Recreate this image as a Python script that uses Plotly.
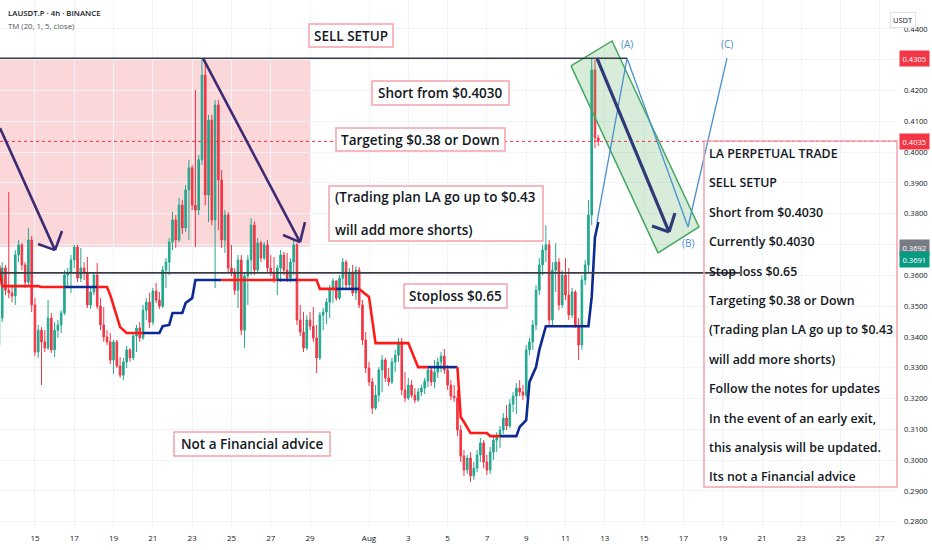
import pandas as pd
import plotly.graph_objects as go

# ---------------- data (LAUSDT.P, 4h candles) ----------------
start_time = "2025-07-13 04:00"
first_open = 0.3374
close = [
0.3461,0.3624,0.3552,0.3543,0.3533,0.3666,0.3699,0.3634,0.3578,0.3715,
0.3504,0.3351,0.3422,0.3384,0.3364,0.3461,0.3358,0.3422,0.3439,0.3478,
0.3601,0.3611,0.3650,0.3692,0.3591,0.3624,0.3608,0.3504,0.3546,0.3601,
0.3500,0.3439,0.3400,0.3384,0.3325,0.3384,0.3306,0.3276,0.3319,0.3358,
0.3332,0.3403,0.3429,0.3397,0.3487,0.3513,0.3448,0.3549,0.3520,0.3500,
0.3617,0.3643,0.3708,0.3780,0.3715,0.3828,0.3754,0.3877,0.3949,0.3828,
0.3812,0.3975,0.4250,0.3861,0.4104,0.3780,0.4153,0.3910,0.3715,0.3796,
0.3624,0.3611,0.3552,0.3650,0.3422,0.3598,0.3650,0.3763,0.3617,0.3705,
0.3656,0.3699,0.3624,0.3611,0.3585,0.3624,0.3666,0.3617,0.3591,0.3643,
0.3699,0.3455,0.3416,0.3364,0.3455,0.3435,0.3397,0.3332,0.3471,0.3481,
0.3513,0.3559,0.3582,0.3526,0.3591,0.3643,0.3569,0.3611,0.3543,0.3617,
0.3504,0.3390,0.3299,0.3254,0.3169,0.3211,0.3293,0.3325,0.3267,0.3254,
0.3319,0.3341,0.3384,0.3228,0.3202,0.3244,0.3211,0.3195,0.3221,0.3234,
0.3257,0.3293,0.3254,0.3286,0.3319,0.3338,0.3293,0.3244,0.3208,0.3202,
0.3098,0.3013,0.2968,0.3007,0.2949,0.2974,0.3017,0.3056,0.2994,0.2968,
0.3026,0.3065,0.3078,0.3098,0.3137,0.3111,0.3182,0.3208,0.3234,0.3221,
0.3211,0.3358,0.3384,0.3439,0.3552,0.3634,0.3682,0.3699,0.3455,0.3617,
0.3643,0.3504,0.3601,0.3536,0.3471,0.3546,0.3439,0.3374,0.3585,0.3634,
0.3796,0.4267,0.4046,0.4035]
high = [
0.3481,0.3643,0.3634,0.3871,0.3569,0.3682,0.3715,0.3705,0.3643,0.3754,
0.3728,0.3526,0.3439,0.3432,0.3422,0.3520,0.3478,0.3448,0.3455,0.3487,
0.3617,0.3624,0.3666,0.3699,0.3699,0.3689,0.3643,0.3660,0.3559,0.3611,
0.3640,0.3526,0.3497,0.3422,0.3413,0.3390,0.3390,0.3335,0.3332,0.3371,
0.3364,0.3416,0.3439,0.3448,0.3504,0.3526,0.3543,0.3559,0.3575,0.3546,
0.3630,0.3656,0.3721,0.3806,0.3796,0.3851,0.3845,0.3893,0.3975,0.3958,
0.4202,0.3991,0.4305,0.4299,0.4121,0.4121,0.4169,0.4169,0.3942,0.3812,
0.3805,0.3699,0.3624,0.3666,0.3666,0.3611,0.3666,0.3786,0.3775,0.3721,
0.3712,0.3708,0.3715,0.3666,0.3660,0.3634,0.3682,0.3676,0.3673,0.3656,
0.3715,0.3705,0.3504,0.3481,0.3471,0.3481,0.3497,0.3439,0.3481,0.3494,
0.3526,0.3569,0.3591,0.3585,0.3601,0.3656,0.3650,0.3624,0.3634,0.3630,
0.3627,0.3520,0.3416,0.3319,0.3267,0.3244,0.3302,0.3341,0.3332,0.3299,
0.3332,0.3358,0.3397,0.3397,0.3286,0.3267,0.3260,0.3234,0.3234,0.3244,
0.3267,0.3306,0.3306,0.3325,0.3332,0.3351,0.3361,0.3309,0.3260,0.3244,
0.3228,0.3114,0.3033,0.3017,0.3026,0.2994,0.3033,0.3072,0.3065,0.3017,
0.3043,0.3078,0.3091,0.3111,0.3153,0.3179,0.3198,0.3221,0.3250,0.3260,
0.3244,0.3374,0.3397,0.3455,0.3569,0.3656,0.3699,0.3763,0.3715,0.3643,
0.3705,0.3656,0.3617,0.3656,0.3624,0.3559,0.3552,0.3461,0.3601,0.3650,
0.3845,0.4305,0.4299,0.4056]
low = [
0.3358,0.3448,0.3536,0.3526,0.3513,0.3504,0.3643,0.3617,0.3559,0.3569,
0.3481,0.3338,0.3332,0.3244,0.3351,0.3358,0.3348,0.3335,0.3397,0.3413,
0.3471,0.3562,0.3543,0.3624,0.3578,0.3578,0.3585,0.3494,0.3491,0.3536,
0.3491,0.3422,0.3384,0.3374,0.3312,0.3280,0.3299,0.3267,0.3260,0.3299,
0.3319,0.3325,0.3351,0.3384,0.3390,0.3455,0.3429,0.3439,0.3510,0.3491,
0.3494,0.3559,0.3601,0.3682,0.3689,0.3708,0.3734,0.3741,0.3715,0.3812,
0.3692,0.3796,0.3958,0.3828,0.3773,0.3763,0.3559,0.3747,0.3689,0.3673,
0.3611,0.3598,0.3536,0.3494,0.3406,0.3364,0.3504,0.3601,0.3601,0.3611,
0.3643,0.3650,0.3611,0.3598,0.3575,0.3536,0.3578,0.3601,0.3578,0.3578,
0.3601,0.3439,0.3403,0.3351,0.3358,0.3422,0.3384,0.3283,0.3325,0.3422,
0.3442,0.3461,0.3510,0.3517,0.3520,0.3559,0.3559,0.3559,0.3533,0.3520,
0.3494,0.3374,0.3283,0.3241,0.3150,0.3163,0.3189,0.3221,0.3254,0.3241,
0.3247,0.3286,0.3319,0.3211,0.3189,0.3195,0.3202,0.3185,0.3189,0.3208,
0.3215,0.3237,0.3241,0.3234,0.3267,0.3286,0.3280,0.3228,0.3195,0.3189,
0.3078,0.2994,0.2949,0.2955,0.2929,0.2936,0.2961,0.2994,0.2974,0.2952,
0.2955,0.3000,0.3026,0.3039,0.3085,0.3098,0.3104,0.3156,0.3150,0.3208,
0.3195,0.3202,0.3341,0.3358,0.3422,0.3536,0.3601,0.3643,0.3439,0.3439,
0.3546,0.3487,0.3494,0.3520,0.3455,0.3461,0.3429,0.3325,0.3358,0.3569,
0.3611,0.3763,0.4013,0.4020]

# TM indicator (trend line): vertex candle index, value, colour of following segment
tm_k = [0,1,12,13,20,30,33,34,36,37,39,44,49,50,52,53,56,57,59,60,68,85,91,97,98,
        103,110,113,115,125,128,131,140,141,142,144,149,150,153,158,159,161,162,164,165,
        166,167,180,181,182,183]
tm_v = [0.3634,0.3565,0.3565,0.3562,0.3562,0.3562,0.3562,0.3536,0.3461,0.3432,
        0.3413,0.3413,0.3413,0.3435,0.3439,0.3478,0.3478,0.3510,0.3526,0.3585,
        0.3585,0.3585,0.3585,0.3585,0.3556,0.3556,0.3556,0.3530,0.3380,0.3380,
        0.3302,0.3302,0.3302,0.3140,0.3124,0.3088,0.3088,0.3078,0.3078,0.3078,
        0.3108,0.3130,0.3254,0.3302,0.3358,0.3397,0.3435,0.3435,0.3530,0.3724,0.3773]
tm_dir = "RRRRB" "RRRRR" "RBBBB" "BBBBB" "RBRRR" "BRRRR" "RBRRR" "RRRBB" "BBBBB" "BBBBB" "B"

# levels / drawings (time, price)
top_level = 0.4305
stop_level = 0.3608
last_price = 0.4035
zone_low, zone_high = 0.3692, 0.4305
zone_end = "2025-07-29 01:10"
arrow1 = [("2025-07-13 05:18", 0.4078), ("2025-07-16 00:30", 0.3682)]
arrow1_wings = [("2025-07-15 03:50", 0.3702), ("2025-07-16 09:00", 0.3744)]
arrow2 = [("2025-07-23 13:10", 0.4305), ("2025-07-28 11:45", 0.3708)]
arrow2_wings = [("2025-07-27 15:00", 0.3731), ("2025-07-28 17:50", 0.3773)]
arrow3 = [("2025-08-12 14:25", 0.4305), ("2025-08-16 06:25", 0.3741)]
arrow3_wings = [("2025-08-15 09:40", 0.3760), ("2025-08-16 13:40", 0.3802)]
channel_t = ["2025-08-11 06:45", "2025-08-13 08:50", "2025-08-17 19:00", "2025-08-15 17:00", "2025-08-11 06:45"]
channel_p = [0.4280, 0.4361, 0.3757, 0.3673, 0.4280]
abc_t = ["2025-08-12 14:25", "2025-08-14 03:10", "2025-08-17 05:35", "2025-08-19 05:15"]
abc_p = [0.3773, 0.4305, 0.3757, 0.4305]
top_level_end = "2025-08-14 03:10"
stop_level_end = "2025-08-19 21:00"

x_ticks = ["2025-07-15", "2025-07-17", "2025-07-19", "2025-07-21", "2025-07-23", "2025-07-25",
           "2025-07-27", "2025-07-29", "2025-08-01", "2025-08-03", "2025-08-05", "2025-08-07",
           "2025-08-09", "2025-08-11", "2025-08-13", "2025-08-15", "2025-08-17", "2025-08-19",
           "2025-08-21", "2025-08-23", "2025-08-25", "2025-08-27"]
x_tick_text = ["15", "17", "19", "21", "23", "25", "27", "29", "Aug", "3", "5", "7", "9", "11",
               "13", "15", "17", "19", "21", "23", "25", "27"]
y_ticks = [0.28, 0.29, 0.30, 0.31, 0.32, 0.33, 0.34, 0.35, 0.36, 0.37, 0.38, 0.39, 0.40,
           0.41, 0.42, 0.43, 0.44]
badges = [(0.4305, "#f23645"), (0.4035, "#f23645"), (0.3692, "#787b86"), (0.3691, "#089981")]

# ---------------- build ----------------
times = pd.date_range(start_time, periods=len(close), freq="4h")
opens = [first_open] + close[:-1]
hi = [max(h, o, c) for h, o, c in zip(high, opens, close)]
lo = [min(l, o, c) for l, o, c in zip(low, opens, close)]

W, H = 932, 550
ML, MR, MT, MB = 0, 34, 0, 23
PW, PH = W - ML - MR, H - MT - MB

def px(x):
    return (x - ML) / PW

def py(y):
    return 1 - (y - MT) / PH

FONT = "Open Sans"
TXT = "#131722"
PINK = "#f5a3aa"

fig = go.Figure()

# pink zone
fig.add_shape(type="rect", xref="x", yref="y", x0="2025-07-12", x1=zone_end,
              y0=zone_low, y1=zone_high, fillcolor="rgba(242,54,69,0.20)",
              line=dict(width=0), layer="below")

# candles
fig.add_trace(go.Candlestick(
    x=times, open=opens, high=hi, low=lo, close=close,
    increasing=dict(line=dict(color="#22a88f", width=1), fillcolor="#22a88f"),
    decreasing=dict(line=dict(color="#f23645", width=1), fillcolor="#f23645"),
    whiskerwidth=0, hoverinfo="skip", showlegend=False))

# TM line segments
i = 0
n = len(tm_k)
while i < n - 1:
    j = i
    while j + 1 < n - 1 and tm_dir[j + 1] == tm_dir[i]:
        j += 1
    seg = range(i, j + 2)
    fig.add_trace(go.Scatter(
        x=[times[tm_k[s]] for s in seg], y=[tm_v[s] for s in seg], mode="lines",
        line=dict(color="#ff1a1a" if tm_dir[i] == "R" else "#0c2a92", width=2.6),
        hoverinfo="skip", showlegend=False))
    i = j + 1

# green channel box
fig.add_trace(go.Scatter(x=channel_t, y=channel_p, mode="lines", fill="toself",
                         fillcolor="rgba(76,175,80,0.22)", line=dict(color="#43a85e", width=1.5),
                         hoverinfo="skip", showlegend=False))
# ABC path
fig.add_trace(go.Scatter(x=abc_t, y=abc_p, mode="lines", line=dict(color="#4a8fcf", width=1.3),
                         hoverinfo="skip", showlegend=False))

# horizontal levels
fig.add_shape(type="line", xref="x", yref="y", x0="2025-07-12", x1=top_level_end,
              y0=top_level, y1=top_level, line=dict(color="#3a3d45", width=1.6))
fig.add_shape(type="line", xref="x", yref="y", x0="2025-07-12", x1=stop_level_end,
              y0=stop_level, y1=stop_level, line=dict(color="#3a3d45", width=1.6))
fig.add_shape(type="line", xref="paper", yref="y", x0=0, x1=1,
              y0=last_price, y1=last_price, line=dict(color="#f23645", width=1, dash="dot"))

def arrow(main, wings, color, width):
    (x0, y0), (x1, y1) = main
    fig.add_shape(type="line", xref="x", yref="y", x0=x0, y0=y0, x1=x1, y1=y1,
                  line=dict(color=color, width=width))
    for wx, wy in wings:
        fig.add_shape(type="line", xref="x", yref="y", x0=wx, y0=wy, x1=x1, y1=y1,
                      line=dict(color=color, width=width))

arrow(arrow1, arrow1_wings, "#3d2a75", 2.6)
arrow(arrow2, arrow2_wings, "#3d2a75", 2.6)
arrow(arrow3, arrow3_wings, "#2e3a78", 3.2)

ann = []
# ABC labels
for lab, t, p, dy in [("(A)", abc_t[1], abc_p[1], 14), ("(B)", abc_t[2], abc_p[2], -16),
                      ("(C)", abc_t[3], abc_p[3], 14)]:
    ann.append(dict(x=t, y=p, xref="x", yref="y", text=lab, showarrow=False, yshift=dy,
                    font=dict(family=FONT, size=10, color="#4a8fcf")))

# text boxes
def box(x0, y0, x1, y1, fill="white"):
    fig.add_shape(type="rect", xref="paper", yref="paper", x0=px(x0), x1=px(x1),
                  y0=py(y1), y1=py(y0), fillcolor=fill, line=dict(color=PINK, width=1.5),
                  layer="above")

def txt(x, y, s, anchor="center", size=13.5):
    ann.append(dict(x=px(x), y=py(y), xref="paper", yref="paper", text=s, showarrow=False,
                    xanchor=anchor, yanchor="middle",
                    font=dict(family=FONT, size=size, color=TXT, weight=600)))

box(309, 24, 393, 47); txt(351, 36, "SELL SETUP")
box(372, 81, 509, 105); txt(440.5, 93, "Short from $0.4030")
box(336, 128, 505, 151); txt(420.5, 140, "Targeting $0.38 or Down")
box(329, 186, 543, 241)
txt(333, 197, "(Trading plan LA go up to $0.43", anchor="left")
txt(333, 230, "will add more shorts)", anchor="left")
box(404, 284, 507, 308); txt(455.5, 296, "Stoploss $0.65")
box(174, 432, 330, 456); txt(252, 444, "Not a Financial advice")

box(704, 141, 897, 487, fill="rgba(0,0,0,0)")
big_lines = ["LA PERPETUAL TRADE", "SELL SETUP", "Short from $0.4030", "Currently $0.4030",
             "Stop loss $0.65", "Targeting $0.38 or Down", "(Trading plan LA go up to $0.43",
             "will add more shorts)", "Follow the notes for updates",
             "In the event of an early exit,", "this analysis will be updated.",
             "Its not a Financial advice"]
for k, s in enumerate(big_lines):
    txt(707, 153.5 + k * 29.4, s, anchor="left", size=12.4)

# header
ann.append(dict(x=px(6), y=py(13), xref="paper", yref="paper", text="LAUSDT.P · 4h · BINANCE",
                showarrow=False, xanchor="left", yanchor="middle",
                font=dict(family=FONT, size=7.8, color=TXT, weight=600)))
ann.append(dict(x=px(6), y=py(26), xref="paper", yref="paper", text="TM (20, 1, 5, close)",
                showarrow=False, xanchor="left", yanchor="middle",
                font=dict(family=FONT, size=7.8, color="#50535e")))

# axis badges
ann.append(dict(x=px(915.5), y=py(12), xref="paper", yref="paper", text="USDT", showarrow=False,
                font=dict(family=FONT, size=7.5, color=TXT), bgcolor="white",
                bordercolor="#e0e3eb", borderwidth=1, borderpad=2))
for val, col in badges:
    yy = val if val != 0.3691 else val - 0.0039
    ann.append(dict(x=px(898.5), y=yy, xref="paper", yref="y", text=f"{val:.4f}", showarrow=False,
                    xanchor="left", yanchor="middle", bgcolor=col, borderpad=2.5,
                    font=dict(family=FONT, size=7.6, color="white")))

fig.update_layout(
    width=W, height=H, margin=dict(l=ML, r=MR, t=MT, b=MB),
    paper_bgcolor="white", plot_bgcolor="white", annotations=ann, showlegend=False,
    hovermode=False,
    xaxis=dict(type="date", range=["2025-07-13 05:18", "2025-08-27 22:06"],
               rangeslider=dict(visible=False), tickvals=x_ticks, ticktext=x_tick_text,
               showgrid=True, gridcolor="#f0f3fa", gridwidth=1, zeroline=False,
               showline=False, ticks="", ticklabelstandoff=5,
               tickfont=dict(family=FONT, size=8, color=TXT)),
    yaxis=dict(side="right", range=[0.2783, 0.4494], tickvals=y_ticks,
               ticktext=["" if abs(v - 0.43) < 1e-9 or abs(v - 0.37) < 1e-9 else f"{v:.4f}" for v in y_ticks],
               showgrid=True, gridcolor="#f0f3fa", gridwidth=1, zeroline=False, showline=False,
               ticks="", ticklabelstandoff=5, tickfont=dict(family=FONT, size=7.6, color=TXT)),
)

fig.write_html("out.html", config={"displayModeBar": False})
with open("out.html", "r", encoding="utf-8") as f:
    html = f.read()
html = html.replace("<body>", '<body style="margin:0;padding:0;">', 1)
with open("out.html", "w", encoding="utf-8") as f:
    f.write(html)
